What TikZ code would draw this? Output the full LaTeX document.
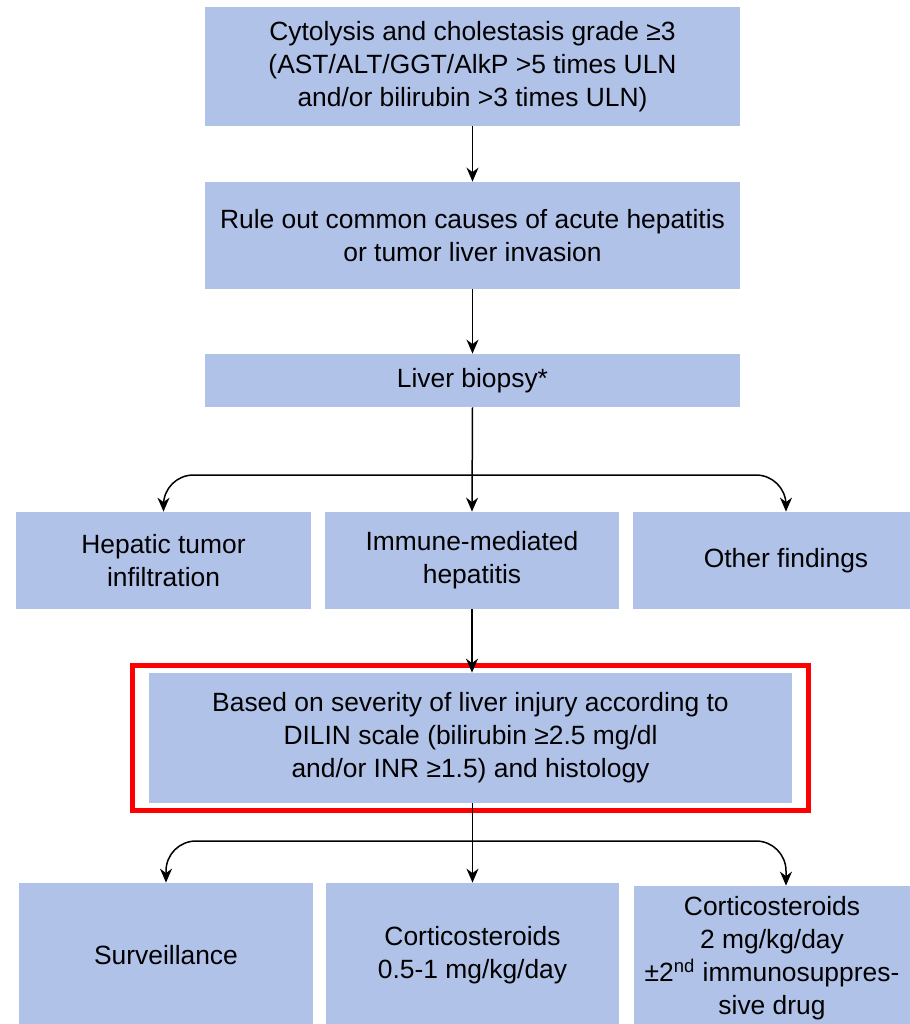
\documentclass[tikz,border=0pt]{standalone}
\usepackage{fontspec}
\setmainfont{Liberation Sans}
\usetikzlibrary{arrows.meta}
\definecolor{boxblue}{RGB}{177,194,233}
\tikzset{
	box/.style={fill=boxblue, draw=none, align=center, inner sep=0pt,
		font=\fontsize{13.2}{16.5}\selectfont},
	arr/.style={-{Stealth[length=7pt,width=6pt]}, line width=0.75pt},
	redframe/.style={draw=red, line width=2.5pt}
}
\begin{document}
\begin{tikzpicture}[x=0.5pt,y=-0.5pt]
	\useasboundingbox (0,0) rectangle (910,1024);

	% top chain
	\node[box, minimum width=267.5pt, minimum height=59.5pt] (cyto) at (472.5,66.5)
		{Cytolysis and cholestasis grade ≥3\\(AST/ALT/GGT/AlkP >5 times ULN\\and/or bilirubin >3 times ULN)};
	\node[box, minimum width=267.5pt, minimum height=53.5pt] (rule) at (472.5,235.5)
		{Rule out common causes of acute hepatitis\\or tumor liver invasion};
	\node[box, minimum width=267.5pt, minimum height=26.5pt] (biop) at (472.5,380.5)
		{Liver biopsy*};

	% findings
	\node[box, minimum width=147.5pt, minimum height=48.5pt] (hep) at (163.5,560.5)
		{Hepatic tumor\\infiltration};
	\node[box, minimum width=147pt, minimum height=48.5pt] (imm) at (472,560.5)
		{Immune-mediated\\hepatitis};
	\node[box, minimum width=153pt, minimum height=48.5pt] (oth) at (786,560.5)
		{Other findings};

	% severity
	\draw[redframe] (132,665) rectangle (808,810);
	\node[box, minimum width=321.5pt, minimum height=65pt] (dil) at (470.5,738)
		{Based on severity of liver injury according to\\DILIN scale (bilirubin ≥2.5 mg/dl\\and/or INR ≥1.5) and histology};

	% treatment
	\node[box, minimum width=147pt, minimum height=72pt] (surv) at (166,955)
		{Surveillance};
	\node[box, minimum width=146.5pt, minimum height=72pt] (cort1) at (472.5,955)
		{Corticosteroids\\0.5-1 mg/kg/day};
	\node[box, minimum width=138pt, minimum height=72pt] (cort2) at (772,958)
		{Corticosteroids\\2 mg/kg/day\\±2\textsuperscript{nd} immunosuppres-\\sive drug};

	% connectors
	\draw[arr] (cyto.south) -- (rule.north);
	\draw[arr] (rule.south) -- (biop.north);
	\draw[arr] (biop.south) -- (imm.north);
	\coordinate (fork1) at (472.5,475);
	\draw[arr, rounded corners=15pt] (fork1) -| (hep.north);
	\draw[arr, rounded corners=15pt] (fork1) -| (oth.north);
	\draw[arr] (imm.south) -- (imm.south |- dil.north);
	\draw[arr] (dil.south -| cort1.north) -- (cort1.north);
	\coordinate (fork2) at (472.5,841);
	\draw[arr, rounded corners=15pt] (fork2) -| (surv.north);
	\draw[arr, rounded corners=15pt] (fork2) -| ([xshift=7pt]cort2.north);

\end{tikzpicture}
\end{document}
